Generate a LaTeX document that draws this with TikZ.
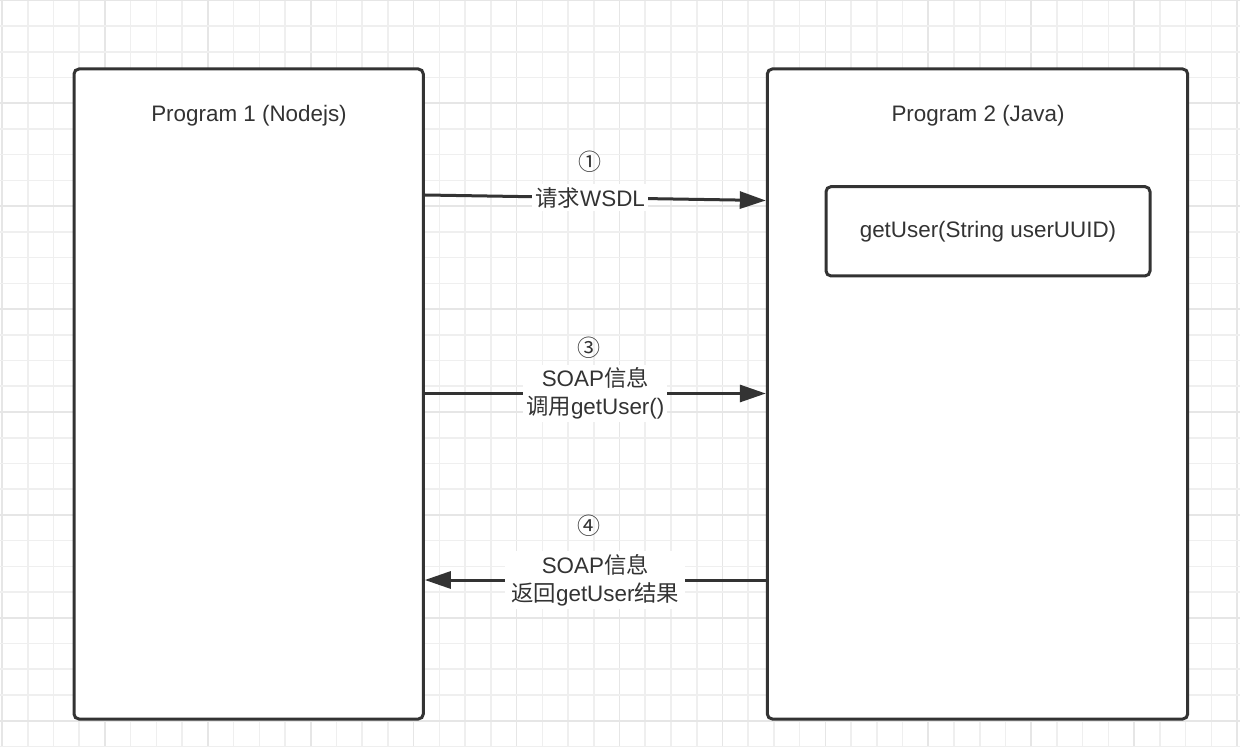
\documentclass[tikz,border=0pt]{standalone}
\usepackage{fontspec}
\setmainfont{Liberation Sans}
\newfontfamily\cjk{Noto Sans CJK SC}
\usetikzlibrary{arrows.meta,calc}
\definecolor{ink}{HTML}{333333}
\definecolor{gridminor}{HTML}{EFEFEF}
\definecolor{gridmajor}{HTML}{E6E6E6}
\begin{document}
\begin{tikzpicture}[x=0.5pt,y=-0.5pt,
  font=\fontsize{11.2}{14}\selectfont,
  prog/.style={draw=ink, line width=1.5pt, rounded corners=2.5pt, fill=white, inner sep=0pt},
  title/.style={text=ink, inner sep=0pt},
  msg/.style={draw=ink, line width=1.5pt, -{Triangle[length=13pt,width=8.5pt]}},
  lbl/.style={fill=white, text=ink, inner sep=1.5pt, align=center},
  num/.style={text=ink, inner sep=0pt, font=\cjk\fontsize{11.5}{14}\selectfont}]
\useasboundingbox (0,0) rectangle (1240,747);
\fill[white] (0,0) rectangle (1240,747);
% background grid
\foreach \i in {0,...,48}{
  \pgfmathtruncatemacro{\m}{mod(\i,4)}
  \ifnum\m=0 \def\gc{gridmajor}\else\def\gc{gridminor}\fi
  \draw[\gc, line width=0.8pt] ({2+\i*25.73},0) -- ({2+\i*25.73},747);
}
\foreach \j in {0,...,29}{
  \pgfmathtruncatemacro{\m}{mod(\j,4)}
  \ifnum\m=0 \def\gc{gridmajor}\else\def\gc{gridminor}\fi
  \draw[\gc, line width=0.8pt] (0,{0.3+\j*25.73}) -- (1240,{0.3+\j*25.73});
}
% the two programs
\node[prog, minimum width=174.65pt, minimum height=325pt] (p1) at (248.65,394) {};
\node[prog, minimum width=210.2pt, minimum height=325pt] (p2) at (977.5,394) {};
\node[title] (t1) at (249,116) {Program 1 (Nodejs)};
\node[title] (t2) at (978,116) {Program 2 (Java)};
% exposed service method
\node[prog, minimum width=162pt, minimum height=44.65pt, text=ink] (m) at (988,231.3) {getUser(String userUUID)};
% message rows
\coordinate (y1a) at (0,195);
\coordinate (y1b) at (0,200.5);
\coordinate (y3) at (0,393.5);
\coordinate (y4) at (0,580);
\draw[msg] (p1.east |- y1a) -- node[lbl, pos=0.485] (l1) {{\cjk 请求}WSDL} (p2.west |- y1b);
\draw[msg] (p1.east |- y3) -- node[lbl, pos=0.5] (l3) {SOAP{\cjk 信息}\\{\cjk 调用}getUser()} (p2.west |- y3);
\draw[msg] (p2.west |- y4) -- node[lbl, pos=0.5, inner xsep=3pt] (l4) {SOAP{\cjk 信息}\\{\cjk 返回}getUser{\cjk 结果}} (p1.east |- y4);
% step numbers
\node[num] (n1) at (590,162) {①};
\node[num] (n3) at (589,348) {③};
\node[num] (n4) at (589,526) {④};
\end{tikzpicture}
\end{document}
